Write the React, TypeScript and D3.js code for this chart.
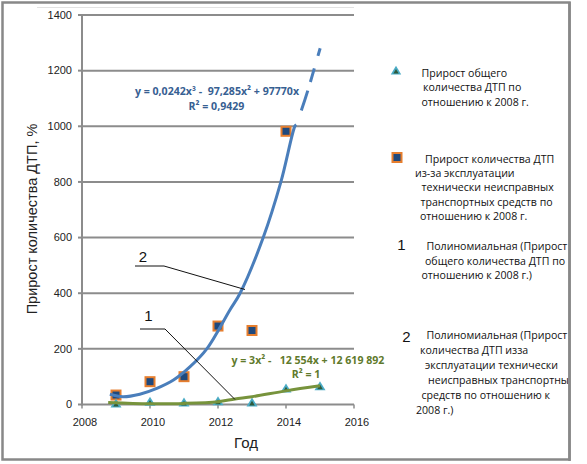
import React from 'react';
import * as d3 from 'd3';

// ---- data ----
const xTicks = [2008, 2010, 2012, 2014, 2016];
const yTicks = [0, 200, 400, 600, 800, 1000, 1200, 1400];

const totalYears = [2009, 2010, 2011, 2012, 2013, 2014, 2015];
const totalGrowth = [2, 8, 6, 10, 6, 56, 64];

const faultyYears = [2009, 2010, 2011, 2012, 2013, 2014];
const faultyGrowth = [34, 82, 100, 282, 266, 982];

// polynomial trendline 1 (total growth), read points
const trend1Years = [2008.77, 2009.5, 2010, 2011, 2012, 2012.5, 2013, 2014, 2015];
const trend1Values = [7, 4, 3, 4, 10, 20, 28, 49, 67];

// polynomial trendline 2 (faulty vehicles), read points; solid part
const trend2Years = [2008.82, 2009.2, 2009.7, 2010.2, 2010.69, 2011.18, 2011.67, 2012.35, 2012.65, 2013.33, 2013.85, 2014.26, 2014.3];
const trend2Values = [37, 28, 37, 58, 88, 136, 200, 340, 400, 600, 800, 1000, 1006];
// forecast (dashed) part
const trend2FcYears = [2014.3, 2014.46, 2014.65, 2014.85, 2015.02];
const trend2FcValues = [1006, 1060, 1132, 1215, 1287];

const eq2 = ['y = 0,0242x³ -  97,285x² + 97770x', 'R² = 0,9429'];
const eq1 = ['y = 3x² -   12 554x + 12 619 892', 'R² = 1'];

const legend1 = ['Прирост общего', 'количества ДТП по', 'отношению к 2008 г.'];
const legend2 = ['Прирост количества ДТП', 'из-за эксплуатации', 'технически неисправных', 'транспортных средств по', 'отношению к 2008 г.'];
const legend3 = ['Полиномиальная (Прирост', 'общего количества ДТП по', 'отношению к 2008 г.)'];
const legend4 = ['Полиномиальная (Прирост', 'количества ДТП изза', 'эксплуатации технически', 'неисправных транспортных', 'средств по отношению к', '2008 г.)'];

const W = 587;
const H = 464;

const x = d3.scaleLinear().domain([2008, 2016]).range([82, 354]);
const y = d3.scaleLinear().domain([0, 1400]).range([404.5, 15]);

const line = d3
  .line<[number, number]>()
  .x((d) => x(d[0]))
  .y((d) => y(d[1]))
  .curve(d3.curveCatmullRom);

const zip = (a: number[], b: number[]) => a.map((v, i) => [v, b[i]] as [number, number]);

const SANS = '"Liberation Sans", Arial, sans-serif';
const LEG = '"Open Sans", "Noto Sans", sans-serif';
const LEG_FS = 10.6;
const EQ_FS = 10.6;

function Triangle({ cx, cy, s = 1 }: { cx: number; cy: number; s?: number }) {
  const w = 5.5 * s;
  const h = 9 * s;
  const outer = `M${cx},${cy - h * 0.6} L${cx + w},${cy + h * 0.4} L${cx - w},${cy + h * 0.4} Z`;
  const iw = 2.8 * s;
  const ih = 4.8 * s;
  const inner = `M${cx},${cy - ih * 0.45} L${cx + iw},${cy + ih * 0.55} L${cx - iw},${cy + ih * 0.55} Z`;
  return (
    <g>
      <path d={outer} fill="#4bacc6" />
      <path d={inner} fill="#2e5a3c" />
    </g>
  );
}

function Square({ cx, cy }: { cx: number; cy: number }) {
  return <rect x={cx - 4.5} y={cy - 4.5} width={9} height={9} fill="#1f497d" stroke="#e67e2e" strokeWidth={2} />;
}

export default function App() {
  const gridX0 = 82;
  const gridX1 = 354;
  return (
    <svg width={W} height={H} style={{ position: 'absolute', left: 0, top: 0, background: '#fff' }}>
      <rect x={0} y={0} width={W} height={H} fill="#fff" />
      {/* outer frame */}
      <rect x={2.5} y={2.5} width={567} height={457} fill="none" stroke="#888" strokeWidth={2.5} />
      <line x1={37} x2={354} y1={7.5} y2={7.5} stroke="#e2e2e2" strokeWidth={1} />

      {/* gridlines */}
      {yTicks.map((t) => (
        <g key={t}>
          <line x1={gridX0} x2={gridX1} y1={y(t)} y2={y(t)} stroke="#8c8c8c" strokeWidth={2} />
          <line x1={78} x2={gridX0} y1={y(t)} y2={y(t)} stroke="#8c8c8c" strokeWidth={2} />
          <text x={72} y={y(t)} dy="0.35em" textAnchor="end" fontFamily={SANS} fontSize={11} fill="#222">
            {t}
          </text>
        </g>
      ))}
      {/* y axis */}
      <line x1={gridX0} x2={gridX0} y1={y(1400)} y2={y(0) + 1} stroke="#8c8c8c" strokeWidth={2} />
      {/* x ticks */}
      {xTicks.map((t) => (
        <g key={t}>
          <line x1={x(t)} x2={x(t)} y1={y(0)} y2={y(0) + 4} stroke="#8c8c8c" strokeWidth={1.5} />
          <text x={x(t) + 3} y={422.5} dy="0.35em" textAnchor="middle" fontFamily={SANS} fontSize={11} fill="#222">
            {t}
          </text>
        </g>
      ))}

      {/* axis titles */}
      <text
        transform={`translate(32,219) rotate(-90)`}
        textAnchor="middle"
        dy="0.35em"
        fontFamily={SANS}
        fontSize={14.5}
        fill="#222"
      >
        Прирост количества ДТП, %
      </text>
      <text x={246} y={442.5} dy="0.35em" textAnchor="middle" fontFamily={SANS} fontSize={15} fill="#222">
        Год
      </text>

      {/* markers */}
      {faultyYears.map((yr, i) => (
        <Square key={'s' + yr} cx={x(yr)} cy={y(faultyGrowth[i])} />
      ))}
      {totalYears.map((yr, i) => (
        <Triangle key={'t' + yr} cx={x(yr)} cy={y(totalGrowth[i])} />
      ))}

      {/* trendlines */}
      <path d={line(zip(trend1Years, trend1Values)) || ''} fill="none" stroke="#77933c" strokeWidth={3} />
      <path d={line(zip(trend2Years, trend2Values)) || ''} fill="none" stroke="#4a7ebb" strokeWidth={3} />
      <path
        d={line(zip(trend2FcYears, trend2FcValues)) || ''}
        fill="none"
        stroke="#4a7ebb"
        strokeWidth={3}
        strokeDasharray="0 15 21 9 14 13 8 60"
      />

      {/* equations */}
      <text x={217} y={91.7} dy="0.35em" textAnchor="middle" fontFamily={LEG} fontWeight="bold" fontSize={EQ_FS} fill="#376092" xmlSpace="preserve">
        {eq2[0]}
      </text>
      <text x={216.5} y={106.7} dy="0.35em" textAnchor="middle" fontFamily={LEG} fontWeight="bold" fontSize={EQ_FS} fill="#376092">
        {eq2[1]}
      </text>
      <text x={231.5} y={360} dy="0.35em" textAnchor="start" fontFamily={LEG} fontWeight="bold" fontSize={EQ_FS} fill="#5f7a2c" xmlSpace="preserve">
        {eq1[0]}
      </text>
      <text x={306} y={374.3} dy="0.35em" textAnchor="middle" fontFamily={LEG} fontWeight="bold" fontSize={EQ_FS} fill="#5f7a2c">
        {eq1[1]}
      </text>

      {/* callouts */}
      <text x={143} y={257} dy="0.35em" textAnchor="middle" fontFamily={SANS} fontSize={15} fill="#111">
        2
      </text>
      <polyline points="135,266 164,266 245,289.5" fill="none" stroke="#111" strokeWidth={1} />
      <text x={148.5} y={316} dy="0.35em" textAnchor="middle" fontFamily={SANS} fontSize={15} fill="#111">
        1
      </text>
      <polyline points="140,329 165,329 235,399.5" fill="none" stroke="#111" strokeWidth={1} />

      {/* legend */}
      <Triangle cx={396} cy={71} s={0.95} />
      {legend1.map((s, i) => (
        <text key={s} x={[421.5, 423, 421.5][i]} y={73 + i * 14.5} dy="0.35em" fontFamily={LEG} fontSize={LEG_FS} fill="#111">
          {s}
        </text>
      ))}
      <Square cx={397} cy={157.5} />
      {legend2.map((s, i) => (
        <text key={s} x={[425, 415, 421.5, 420.5, 420][i]} y={159 + i * 14.3} dy="0.35em" fontFamily={LEG} fontSize={LEG_FS} fill="#111">
          {s}
        </text>
      ))}
      <text x={401.5} y={245} dy="0.35em" textAnchor="middle" fontFamily={SANS} fontSize={15} fill="#111">
        1
      </text>
      {legend3.map((s, i) => (
        <text key={s} x={[426.5, 425, 421.5][i]} y={246.7 + i * 14.2} dy="0.35em" fontFamily={LEG} fontSize={LEG_FS} fill="#111">
          {s}
        </text>
      ))}
      <text x={406.5} y={337} dy="0.35em" textAnchor="middle" fontFamily={SANS} fontSize={15} fill="#111">
        2
      </text>
      <defs>
        <clipPath id="legclip">
          <rect x={0} y={0} width={569} height={H} />
        </clipPath>
      </defs>
      <g clipPath="url(#legclip)">
        {legend4.map((s, i) => (
          <text key={s} x={[426.5, 420, 425, 428, 421.5, 416][i]} y={335 + i * 15} dy="0.35em" fontFamily={LEG} fontSize={LEG_FS} fill="#111">
            {s}
          </text>
        ))}
      </g>
      <line x1={569.5} x2={569.5} y1={2} y2={461} stroke="#888" strokeWidth={2.5} />
    </svg>
  );
}
